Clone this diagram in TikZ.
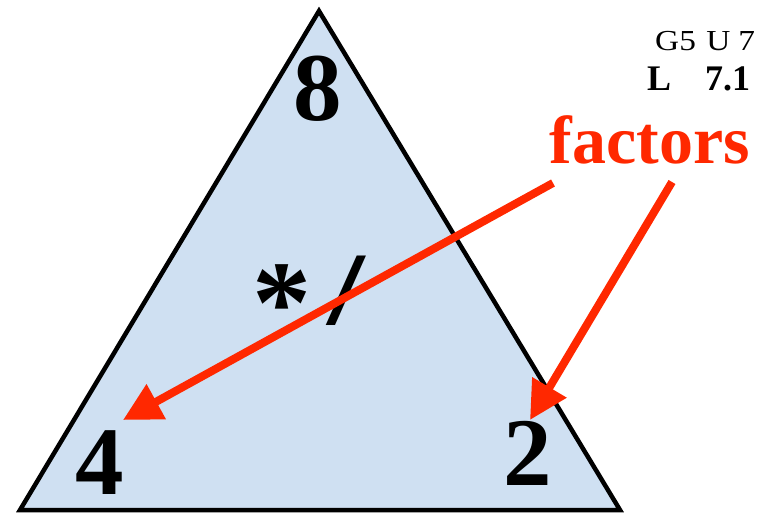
\documentclass[tikz,border=0pt]{standalone}
\usepackage{fontspec}
\setmainfont{Liberation Serif}
\usetikzlibrary{arrows.meta}
\definecolor{triblue}{RGB}{207,224,242}
\definecolor{arrred}{RGB}{255,40,0}
\tikzset{
  digit/.style={font=\bfseries\fontsize{97}{97}\selectfont, inner sep=0pt, anchor=base, text depth=0pt},
  redarrow/.style={draw=arrred, line width=8pt, -{Triangle[length=38pt,width=38pt]}},
}
\begin{document}
\begin{tikzpicture}[x=1pt,y=-1pt]
\useasboundingbox (0,0) rectangle (771,514);
\draw[line width=4.5pt, fill=triblue, line join=miter] (20,510) -- (319,11) -- (620,510) -- cycle;
\node[digit] (eight) at (318,120) {8};
\node[digit] (four) at (100,494) {4};
\node[digit] (two) at (528,485) {2};
\node[digit, font=\bfseries\fontsize{118}{118}\selectfont] (star) at (282,342) {*};
\node[digit, font=\bfseries\fontsize{104}{104}\selectfont, xscale=1.3] (slash) at (346,324) {/};
\node[font=\bfseries\fontsize{68}{68}\selectfont, text=arrred, inner sep=0pt, anchor=base] (factors) at (650,163) {factors};
\node[font=\fontsize{29}{29}\selectfont, inner sep=0pt, anchor=base west, xscale=1.15] (unit) at (655,50) {G5\hspace{9pt}U\hspace{7pt}7};
\node[font=\bfseries\fontsize{36}{36}\selectfont, inner sep=0pt, anchor=base west] (lesson) at (647,90) {L\hspace{34pt}7.1};
\coordinate (s1) at (553,183);
\coordinate (t1) at (123,420);
\coordinate (s2) at (672,182);
\coordinate (t2) at (530,420);
\draw[redarrow] (s1) -- (t1);
\draw[redarrow] (s2) -- (t2);
\end{tikzpicture}
\end{document}
